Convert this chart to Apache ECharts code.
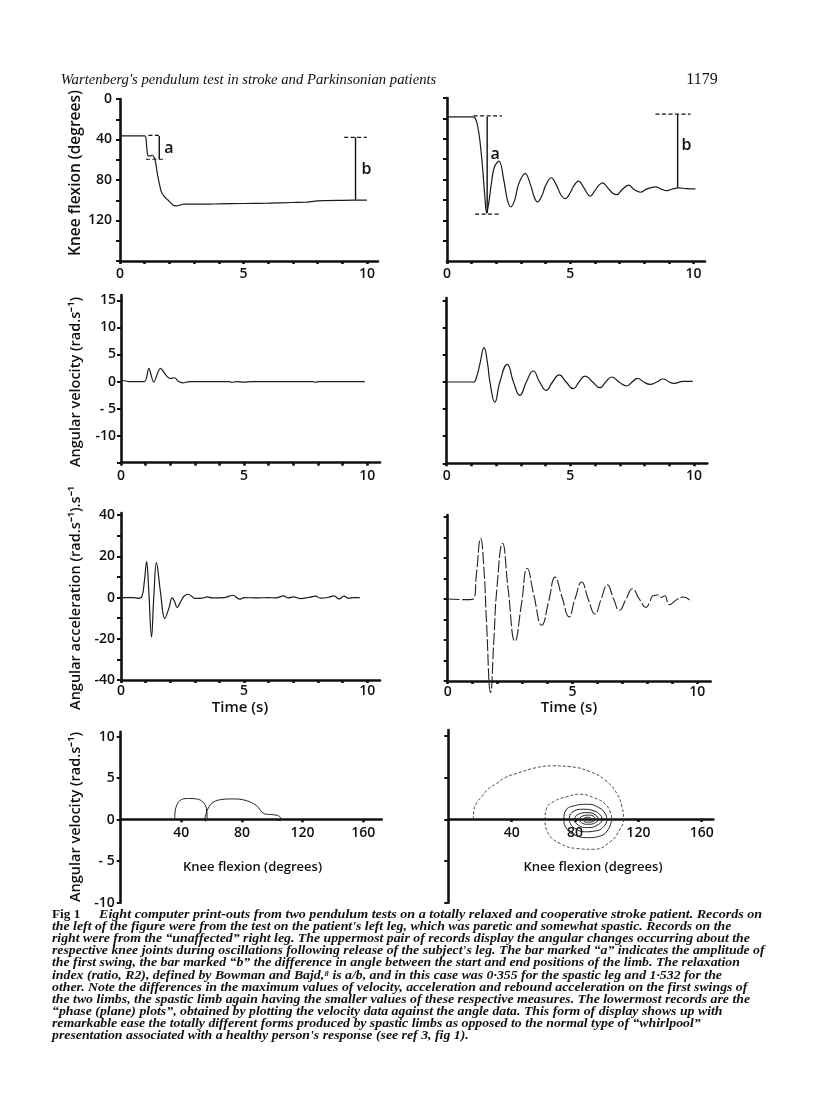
<!DOCTYPE html>
<html><head><meta charset="utf-8">
<script src="https://cdn.jsdelivr.net/npm/echarts@6/dist/echarts.min.js"></script>
<style>html,body{margin:0;padding:0;background:#fff}#c{width:816px;height:1110px}</style>
</head><body><div id="c"></div>
<script>
// ---------- tick values / labels ----------
const timeTicks = [0,1,2,3,4,5,6,7,8,9,10];
const timeLabels = [0,5,10];
const kneeTicks = [0,20,40,60,80,100,120,140,160];
const kneeLabels = [0,40,80,120];
const velTicks = [-15,-10,-5,0,5,10,15];
const velLabels = [-10,-5,0,5,10,15];
const accTicks = [-40,-30,-20,-10,0,10,20,30,40];
const accLabels = [-40,-20,0,20,40];
const phaseXTicks = [40,80,120,160];
const phaseXLabels = [40,80,120,160];
const phaseYTicks = [-10,-5,0,5,10];
const phaseYLabels = [-10,-5,0,5,10];

// ---------- left (spastic) leg ----------
const leftKnee = [[0,36.5],[0.6,36.5],[1.0,36.5],[1.05,38],[1.09,50],[1.13,56],[1.22,56.3],[1.3,55.3],[1.38,57.5],[1.44,62],[1.5,72],[1.58,82],[1.67,91.5],[1.8,96.5],[1.94,99.8],[2.14,104.7],[2.3,105.6],[2.45,104.5],[2.6,103.7],[2.9,103.8],[3.5,103.9],[4,103.6],[5,103.2],[6,102.8],[7,102.2],[7.5,102],[8,100.6],[9,100.1],[10,99.8]];
const leftVel = [[0,0.2],[0.2,0.1],[0.3,0],[0.95,0],[1.13,2.45],[1.33,-0.1],[1.6,2.45],[1.85,1.05],[2.0,0.55],[2.18,0.7],[2.31,0.1],[2.51,-0.25],[2.78,0],[4.4,0],[4.5,-0.15],[4.7,0],[5,-0.1],[5.3,0],[7.8,0],[7.9,-0.15],[8.0,0],[9.9,0]];
const leftAcc = [[0,0],[0.5,0],[0.7,-0.4],[0.85,0.5],[0.95,8],[1.04,17.4],[1.12,5],[1.24,-19.2],[1.33,0],[1.44,16.9],[1.6,3],[1.78,-10.2],[1.95,-5],[2.08,-0.2],[2.18,-2],[2.28,-4.9],[2.42,-2.1],[2.55,0.5],[2.72,1.6],[2.9,0.3],[3.0,-0.4],[3.3,-0.3],[3.5,0.3],[3.7,-0.2],[4.2,0],[4.55,1.1],[4.82,-0.8],[5.0,0],[5.5,-0.2],[6.0,0],[6.3,-0.2],[6.6,0.8],[6.8,-0.2],[7.0,0.3],[7.3,-0.5],[7.6,0],[7.9,0.7],[8.1,-0.3],[8.4,0],[8.65,0.8],[8.86,-0.7],[9.06,0.7],[9.25,-0.4],[9.45,0],[9.7,0]];
const leftPhase = [[35.7,0],[35.8,0.8],[36.5,1.5],[39,2.3],[44,2.55],[50,2.5],[54.4,2.1],[56.6,1.3],[57,0.3],[56,-0.2],[55.5,0],[56.5,0.8],[57.5,1.3],[61,2.1],[67.5,2.45],[74,2.5],[82.9,2.3],[89.5,1.7],[95,0.7],[100.4,0.6],[104.3,0.45],[106,0],[104,-0.1],[102,0]];
// annotation bars (left)
const leftBarA = [[1.59,36.5],[1.59,59.5]];
const leftDashA1 = [[1.15,35.9],[1.62,35.9]];
const leftDashA2 = [[1.05,59.5],[1.85,59.5]];
const leftBarB = [[9.54,37.9],[9.54,99.8]];
const leftDashB = [[9.08,37.9],[10.0,37.9]];
const leftLabels = [{value:[1.98,48.7],name:'a'},{value:[9.98,70],name:'b'}];

// ---------- right (unaffected) leg ----------
const rightKnee = [[0,18.5],[0.6,18.5],[1.05,18.5],[1.15,20],[1.25,28],[1.35,45],[1.45,70],[1.53,95],[1.61,113],[1.7,102],[1.8,84],[1.92,68],[2.11,62],[2.3,80],[2.45,100],[2.59,107],[2.75,100],[2.9,85],[3.17,74],[3.4,86],[3.55,98],[3.67,102],[3.85,96],[4.0,86],[4.23,78.3],[4.45,86],[4.62,95],[4.8,98.8],[5.0,93],[5.15,86],[5.34,81.6],[5.55,88],[5.7,94],[5.81,96.4],[6.0,91],[6.15,86],[6.31,83.3],[6.55,89],[6.75,94],[6.9,94.8],[7.1,90],[7.37,85.6],[7.6,90],[7.85,92.5],[8.1,89.5],[8.46,87.2],[8.7,89.5],[8.93,90.9],[9.15,89.3],[9.4,88.2],[9.7,89],[10.08,89.2]];
const rightVel = [[0,0],[1.08,0],[1.2,0.8],[1.35,3.5],[1.51,6.35],[1.65,3.5],[1.75,0],[1.95,-3.7],[2.15,0],[2.45,3.27],[2.7,0],[2.96,-2.45],[3.22,0],[3.5,2.03],[3.76,0],[4.02,-1.53],[4.28,0],[4.55,1.3],[4.83,0],[5.12,-1.23],[5.35,0],[5.59,1.1],[5.9,0],[6.2,-1.04],[6.43,0],[6.67,0.92],[6.97,0],[7.28,-0.74],[7.5,0],[7.72,0.68],[7.97,0],[8.22,-0.42],[8.5,0],[8.76,0.55],[9.0,0],[9.19,-0.24],[9.57,0.1],[9.95,0.1]];
const rightAcc = [[0,0],[0.8,-0.3],[1.03,0],[1.15,12],[1.32,29.6],[1.45,15],[1.55,-10],[1.72,-45.6],[1.85,-20],[1.97,5],[2.2,27.2],[2.42,5],[2.7,-20.6],[2.95,-3],[3.19,15],[3.45,2],[3.77,-12.8],[4.05,-1],[4.3,10.7],[4.58,1],[4.86,-8.7],[5.1,0],[5.37,8.3],[5.63,0],[5.9,-7.3],[6.15,0],[6.4,6.9],[6.65,0],[6.88,-5.5],[7.15,0],[7.4,5],[7.68,0],[7.95,-4.1],[8.1,-1.4],[8.22,1.6],[8.44,2],[8.57,0.8],[8.7,1.6],[8.88,-2.8],[9.18,-0.3],[9.45,1.0],[9.7,-0.5]];
const rightPhaseOuter = [[15.8,0],[16,0.9],[18,2],[21.1,2.7],[25,3.6],[30.6,4.3],[36,5],[43.2,5.5],[55.9,6.2],[66.4,6.4],[76.9,6.3],[89.5,5.7],[99,4.7],[106.4,3.1],[109.6,1.5],[110.6,0],[108,-1.3],[102.2,-2.7],[91.6,-3.6],[81.1,-3.5],[70.6,-2.9],[63.2,-1.7],[61.1,0],[62,1.3],[66.4,2.1],[74.8,2.7],[83.2,3.0],[91.6,2.6],[98.6,1.9],[102.2,0.9],[103.2,0]];
const rightPhaseInner = [[103.2,0],[101,-1.2],[96,-2.0],[88,-2.2],[80,-1.9],[75,-1.2],[73,0],[74,1.0],[79,1.6],[88,1.8],[95,1.4],[99,0.7],[100,0],[98,-0.9],[93,-1.4],[86,-1.5],[80,-1.1],[77,-0.5],[76.5,0],[78,0.8],[85,1.2],[92,1.0],[96,0.5],[97,0],[95,-0.6],[88,-1.0],[82,-0.7],[80,0],[82,0.6],[88,0.8],[93,0.5],[94.5,0],[93,-0.4],[88,-0.6],[84,-0.4],[83,0],[85,0.4],[89,0.5],[92,0.3],[92.5,0],[91,-0.3],[88,-0.35],[85.5,-0.2],[85.5,0],[88,0.25],[90.5,0],[88.5,-0.1],[88.5,0]];
const rightBarA = [[1.63,18.5],[1.63,113]];
const rightDashA1 = [[1.08,17.5],[2.23,17.5]];
const rightDashA2 = [[1.14,113.9],[2.1,113.9]];
const rightBarB = [[9.36,15.8],[9.36,88]];
const rightDashB = [[8.46,15.8],[9.88,15.8]];
const rightLabels = [{value:[1.95,55.3],name:'a'},{value:[9.72,47],name:'b'}];

// ---------- text ----------
const headerText = "Wartenberg's pendulum test in stroke and Parkinsonian patients";
const pageNo = "1179";
const captionLines = [
 "Eight computer print-outs from two pendulum tests on a totally relaxed and cooperative stroke patient. Records on",
 "the left of the figure were from the test on the patient's left leg, which was paretic and somewhat spastic. Records on the",
 "right were from the \u201cunaffected\u201d right leg. The uppermost pair of records display the angular changes occurring about the",
 "respective knee joints during oscillations following release of the subject's leg. The bar marked \u201ca\u201d indicates the amplitude of",
 "the first swing, the bar marked \u201cb\u201d the difference in angle between the start and end positions of the limb. The relaxation",
 "index (ratio, R2), defined by Bowman and Bajd,\u2078 is a/b, and in this case was 0\u00b7355 for the spastic leg and 1\u00b7532 for the",
 "other. Note the differences in the maximum values of velocity, acceleration and rebound acceleration on the first swings of",
 "the two limbs, the spastic limb again having the smaller values of these respective measures. The lowermost records are the",
 "\u201cphase (plane) plots\u201d, obtained by plotting the velocity data against the angle data. This form of display shows up with",
 "remarkable ease the totally different forms produced by spastic limbs as opposed to the normal type of \u201cwhirlpool\u201d",
 "presentation associated with a healthy person's response (see ref 3, fig 1)."
];

// ---------- build ----------
const FONT = 'Open Sans';
const INK = '#111';
const grids = [
 {left:120, top:99, width:258, height:162},
 {left:447, top:98, width:258, height:163},
 {left:121, top:295, width:259, height:167.7},
 {left:446.7, top:298, width:260.6, height:165.3},
 {left:121, top:513, width:259, height:167},
 {left:447.7, top:515, width:263, height:166},
 {left:120.7, top:731.7, width:261, height:171},
 {left:448.3, top:730, width:265, height:172.7}
];
function lbl(v){ if (v===-5) return '- 5'; return String(v); }
function xA(i, max, ticks, labels, margin, offset){
  return {type:'value', gridIndex:i, min:0, max:max, position:'bottom', offset:offset||0,
    axisLine:{show:true, onZero:false, lineStyle:{color:INK, width:2.6}},
    axisTick:{show:true, customValues:ticks, length:3, lineStyle:{color:INK, width:2.6}},
    axisLabel:{show:labels.length>0, customValues:labels, margin:margin, fontFamily:FONT, fontWeight:600, fontSize:14, color:INK},
    splitLine:{show:false}};
}
function yA(i, min, max, ticks, labels, margin, inverse){
  return {type:'value', gridIndex:i, min:min, max:max, inverse:!!inverse,
    axisLine:{show:true, onZero:false, lineStyle:{color:INK, width:2.6}},
    axisTick:{show:true, customValues:ticks, length:4, lineStyle:{color:INK, width:2}},
    axisLabel:{show:labels.length>0, customValues:labels, margin:margin, formatter:lbl, fontFamily:FONT, fontWeight:600, fontSize:14, color:INK},
    splitLine:{show:false}};
}
const xAxes = [
 xA(0, 10.45, timeTicks, timeLabels, 6),
 xA(1, 10.47, timeTicks, timeLabels, 6),
 xA(2, 10.52, timeTicks, timeLabels, 6),
 xA(3, 10.54, timeTicks, timeLabels, 6),
 xA(4, 10.52, timeTicks, timeLabels, 4),
 xA(5, 10.54, timeTicks, timeLabels, 4),
 xA(6, 172.2, phaseXTicks, phaseXLabels, 7, -83.4),
 xA(7, 167.3, phaseXTicks, phaseXLabels, 7, -83.7)
];
const yAxes = [
 yA(0, 0, 160, kneeTicks, kneeLabels, 8, true),
 yA(1, 0, 160, kneeTicks.filter(v=>v<160), [], 8, true),
 yA(2, -15, 16, velTicks, velLabels, 5),
 yA(3, -15, 15.5, velTicks, [], 5),
 yA(4, -40, 41, accTicks, accLabels, 6),
 yA(5, -40, 41, accTicks, [], 6),
 yA(6, -10, 10.6, phaseYTicks, phaseYLabels, 6),
 yA(7, -10, 10.7, phaseYTicks, [], 6)
];
function trace(i, data, opt){
  return Object.assign({type:'line', xAxisIndex:i, yAxisIndex:i, data:data, symbol:'none', showSymbol:false,
    smooth:0.35, animation:false, silent:true, lineStyle:{color:'#1b1b1b', width:1.2}}, opt||{});
}
function seg(i, data, dashed){
  return {type:'line', xAxisIndex:i, yAxisIndex:i, data:data, symbol:'none', smooth:false, animation:false, silent:true,
    lineStyle:{color:'#111', width:dashed?1.2:1.4, type:dashed?[4,2.5]:'solid'}};
}
function labels(i, data){
  return {type:'scatter', xAxisIndex:i, yAxisIndex:i, data:data, symbolSize:2, itemStyle:{color:'rgba(255,255,255,0)'}, animation:false, silent:true,
    label:{show:true, position:'inside', formatter:'{b}', fontFamily:FONT, fontWeight:600, fontSize:16, color:INK, opacity:1}};
}
const series = [
 trace(0, leftKnee, {smooth:0.2}),
 seg(0, leftBarA), seg(0, leftDashA1, true), seg(0, leftDashA2, true), seg(0, leftBarB), seg(0, leftDashB, true), labels(0, leftLabels),
 trace(1, rightKnee, {smooth:0.4}),
 seg(1, rightBarA), seg(1, rightDashA1, true), seg(1, rightDashA2, true), seg(1, rightBarB), seg(1, rightDashB, true), labels(1, rightLabels),
 trace(2, leftVel, {smooth:0.3}),
 trace(3, rightVel, {smooth:0.5, lineStyle:{color:'#1b1b1b', width:1.2}}),
 trace(4, leftAcc, {smooth:0.4}),
 trace(5, rightAcc, {smooth:0.5, clip:false, lineStyle:{color:'#222', width:1.1, type:[12,2.5]}}),
 trace(6, leftPhase, {smooth:0.4, lineStyle:{color:'#222', width:1}}),
 trace(7, rightPhaseOuter, {smooth:0.5, lineStyle:{color:'#333', width:0.9, type:[3,2]}}),
 trace(7, rightPhaseInner, {smooth:0.5, lineStyle:{color:'#222', width:1}})
];

const TITLE = '600 14.5px "Open Sans"';
const graphic = [
 {type:'text', x:60.7, y:80, style:{text:headerText, font:'italic 14.7px "Liberation Serif"', fill:'#111', verticalAlign:'middle'}},
 {type:'text', x:702, y:80, style:{text:pageNo, font:'16px "Liberation Serif"', fill:'#111', align:'center', verticalAlign:'middle'}},
 {type:'text', x:76, y:173, rotation:Math.PI/2, style:{text:'Knee flexion (degrees)', font:'600 15.5px "Open Sans"', fill:INK, align:'center', verticalAlign:'middle'}},
 {type:'text', x:76, y:382, rotation:Math.PI/2, style:{text:'Angular velocity (rad.s\u207b\u00b9)', font:TITLE, fill:INK, align:'center', verticalAlign:'middle'}},
 {type:'text', x:76, y:598, rotation:Math.PI/2, style:{text:'Angular acceleration (rad.s\u207b\u00b9).s\u207b\u00b9', font:TITLE, fill:INK, align:'center', verticalAlign:'middle'}},
 {type:'text', x:76, y:817, rotation:Math.PI/2, style:{text:'Angular velocity (rad.s\u207b\u00b9)', font:TITLE, fill:INK, align:'center', verticalAlign:'middle'}},
 {type:'text', x:240, y:708, style:{text:'Time (s)', font:'600 15px "Open Sans"', fill:INK, align:'center', verticalAlign:'middle'}},
 {type:'text', x:569, y:708, style:{text:'Time (s)', font:'600 15px "Open Sans"', fill:INK, align:'center', verticalAlign:'middle'}},
 {type:'text', x:252.5, y:867, style:{text:'Knee flexion (degrees)', font:'600 13px "Open Sans"', fill:INK, align:'center', verticalAlign:'middle'}},
 {type:'text', x:593, y:867, style:{text:'Knee flexion (degrees)', font:'600 13px "Open Sans"', fill:INK, align:'center', verticalAlign:'middle'}},
 {type:'text', x:52, y:915, scaleX:1.1, style:{text:'Fig 1', font:'bold 12px "Liberation Serif"', fill:'#111', verticalAlign:'middle'}}
];
captionLines.forEach(function(t, k){
  graphic.push({type:'text', x: k===0 ? 99 : 52, y: 915 + k*12.1, scaleX: k===0 ? 1.175 : 1.15,
    style:{text:t, font:'italic bold 12px "Liberation Serif"', fill:'#111', verticalAlign:'middle'}});
});

const chart = echarts.init(document.getElementById('c'), null, {renderer:'canvas'});
chart.setOption({backgroundColor:'#fff', animation:false, grid:grids, xAxis:xAxes, yAxis:yAxes, series:series, graphic:graphic});
</script></body></html>
